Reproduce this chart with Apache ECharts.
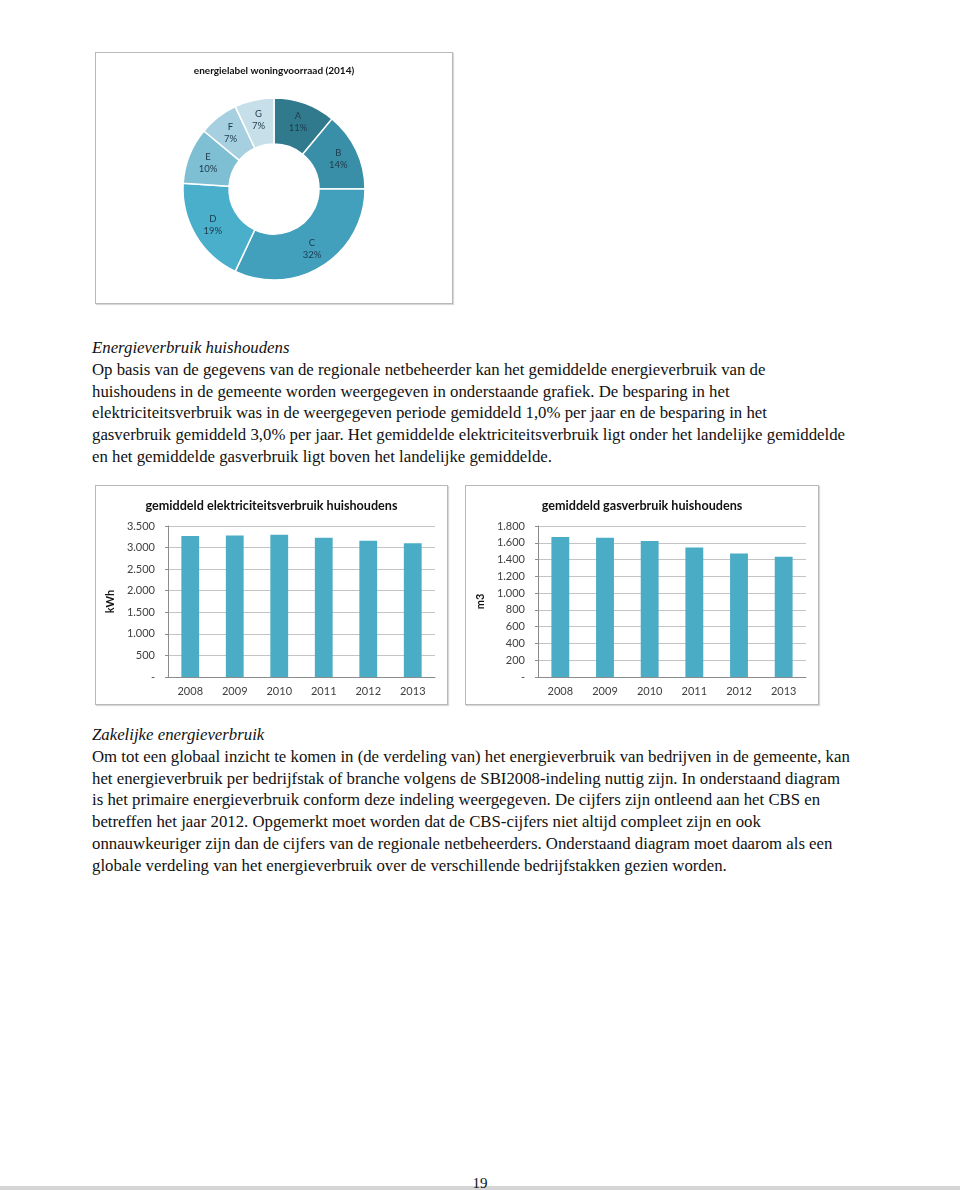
<!DOCTYPE html>
<html>
<head>
<meta charset="utf-8">
<script src="https://cdn.jsdelivr.net/npm/echarts@6/dist/echarts.min.js"></script>
<style>
  html, body { margin:0; padding:0; background:#fff; }
  body { width:960px; height:1190px; position:relative; overflow:hidden; }
  .box { position:absolute; border:1px solid #b8b8b8; box-shadow:1px 1px 1px #d8d8d8; background:#fff; }
  .txt { position:absolute; left:92px; font-family:"Liberation Serif", serif; font-size:16.8px; line-height:21.8px; color:#111; white-space:nowrap; }
  .txt i { font-style:italic; }
  #pnum { position:absolute; left:0; width:960px; top:1175px; text-align:center; font-family:"Liberation Serif", serif; font-size:15px; color:#111; }
  #bar { position:absolute; left:0; top:1186px; width:960px; height:4px; background:#d6d6d6; }
</style>
</head>
<body>
<div id="donut" class="box" style="left:95px; top:52px; width:356px; height:250px;"></div>
<div class="txt" style="top:337px;">
<i>Energieverbruik huishoudens</i><br>
Op basis van de gegevens van de regionale netbeheerder kan het gemiddelde energieverbruik van de<br>
huishoudens in de gemeente worden weergegeven in onderstaande grafiek. De besparing in het<br>
elektriciteitsverbruik was in de weergegeven periode gemiddeld 1,0% per jaar en de besparing in het<br>
gasverbruik gemiddeld 3,0% per jaar. Het gemiddelde elektriciteitsverbruik ligt onder het landelijke gemiddelde<br>
en het gemiddelde gasverbruik ligt boven het landelijke gemiddelde.
</div>
<div id="elec" class="box" style="left:95px; top:485px; width:351px; height:218px;"></div>
<div id="gas" class="box" style="left:465px; top:485px; width:352px; height:218px;"></div>
<div class="txt" style="top:724px;">
<i>Zakelijke energieverbruik</i><br>
Om tot een globaal inzicht te komen in (de verdeling van) het energieverbruik van bedrijven in de gemeente, kan<br>
het energieverbruik per bedrijfstak of branche volgens de SBI2008-indeling nuttig zijn. In onderstaand diagram<br>
is het primaire energieverbruik conform deze indeling weergegeven. De cijfers zijn ontleend aan het CBS en<br>
betreffen het jaar 2012. Opgemerkt moet worden dat de CBS-cijfers niet altijd compleet zijn en ook<br>
onnauwkeuriger zijn dan de cijfers van de regionale netbeheerders. Onderstaand diagram moet daarom als een<br>
globale verdeling van het energieverbruik over de verschillende bedrijfstakken gezien worden.
</div>
<div id="bar"></div>
<div id="pnum">19</div>
<script>
// ---- data ----
var labelNames = ['A', 'B', 'C', 'D', 'E', 'F', 'G'];
var labelShares = [11, 14, 32, 19, 10, 7, 7];
var labelColors = ['#317a8d', '#3a8fa8', '#43a0bd', '#4aafcb', '#7ebfd3', '#a6d0e0', '#c6dfe9'];
var years = ['2008', '2009', '2010', '2011', '2012', '2013'];
var elecValues = [3270, 3280, 3300, 3230, 3160, 3100];
var gasValues = [1670, 1660, 1620, 1545, 1472, 1432];

var FONT = 'Lato, "Open Sans", sans-serif';
function fmt(v) {
  if (v === 0) return '-';
  var s = String(v);
  return s.replace(/\B(?=(\d{3})+(?!\d))/g, '.');
}

// ---- donut ----
var donut = echarts.init(document.getElementById('donut'));
donut.setOption({
  animation: false,
  title: {
    text: 'energielabel woningvoorraad (2014)', left: 'center', top: 8,
    textStyle: { fontFamily: FONT, fontSize: 10, fontWeight: 'bold', color: '#111' }
  },
  series: [{
    type: 'pie',
    center: [178, 136],
    radius: [45, 91],
    startAngle: 90,
    clockwise: true,
    data: labelNames.map(function (n, i) {
      return { name: n, value: labelShares[i], itemStyle: { color: labelColors[i] } };
    }),
    itemStyle: { borderColor: '#fff', borderWidth: 1.5 },
    label: {
      show: true, position: 'inside', formatter: '{b}\n{c}%',
      fontFamily: FONT, fontSize: 9.5, color: '#1d3a4c', lineHeight: 12
    },
    labelLine: { show: false },
    emphasis: { disabled: true }
  }]
});

function barOption(title, axisName, data, max, interval) {
  return {
    animation: false,
    title: {
      text: title, left: 'center', top: 8,
      textStyle: { fontFamily: FONT, fontSize: 12.6, fontWeight: 'bold', color: '#111' }
    },
    grid: { left: 72, right: 12, top: 40, bottom: 27 },
    xAxis: {
      type: 'category', data: years,
      axisLine: { lineStyle: { color: '#8c8c8c' } },
      axisTick: { show: false },
      axisLabel: { fontFamily: FONT, fontSize: 11, color: '#404040', margin: 9 }
    },
    yAxis: {
      type: 'value', min: 0, max: max, interval: interval,
      name: axisName, nameLocation: 'middle', nameGap: 50, nameRotate: 90,
      nameTextStyle: { fontFamily: FONT, fontSize: 11, fontWeight: 'bold', color: '#111' },
      axisLine: { show: true, lineStyle: { color: '#8c8c8c' } },
      axisTick: { show: true, length: 3, lineStyle: { color: '#8c8c8c' } },
      splitLine: { lineStyle: { color: '#c4c4c4' } },
      axisLabel: { fontFamily: FONT, fontSize: 11, color: '#404040', margin: 13, formatter: fmt }
    },
    series: [{
      type: 'bar', data: data, barWidth: '40%',
      itemStyle: { color: '#4bacc6' }
    }]
  };
}

var elec = echarts.init(document.getElementById('elec'));
elec.setOption(barOption('gemiddeld elektriciteitsverbruik huishoudens', 'kWh', elecValues, 3500, 500));
var gas = echarts.init(document.getElementById('gas'));
gas.setOption(barOption('gemiddeld gasverbruik huishoudens', 'm3', gasValues, 1800, 200));
</script>
</body>
</html>
